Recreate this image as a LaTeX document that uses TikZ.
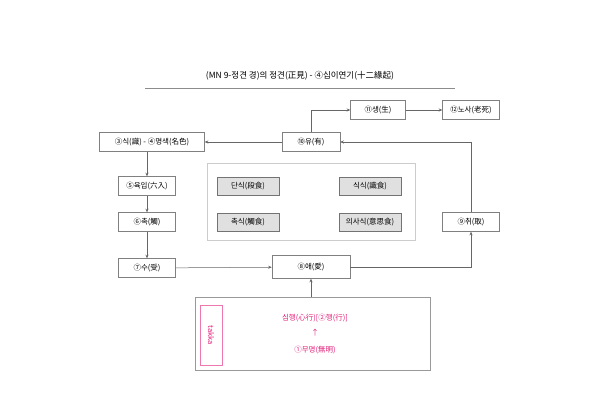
\documentclass[tikz,border=0pt]{standalone}
\usepackage{fontspec}
\setmainfont{Noto Sans CJK KR}
\usetikzlibrary{arrows.meta,positioning}
\definecolor{pinkred}{RGB}{225,30,120}
\begin{document}
\begin{tikzpicture}[
	x = 1pt, y = -1pt,
	> = {Stealth[length=3.5pt,width=3pt]}, % arrow head style
	font = \fontsize{7.5}{9}\selectfont,
	line width = 0.5pt,
	B/.style={draw=black!50, fill=white, minimum height=19pt, inner sep=1pt},  % plain box
	G/.style={draw=black!55, fill=black!12, minimum width=62pt, minimum height=18pt},  % gray box
	]
	\useasboundingbox (0,0) rectangle (600,415);

	% Title
	\node[font=\fontsize{8.5}{10}\selectfont] (title) at (300,76) {(MN 9-정견 경)의 정견(正見) - ④십이연기(十二緣起)};
	\draw[black!45] (145,88) -- (455,88);

	% Nodes and their relative positions
	\node[B, minimum width=55pt] (S11) at (378,110) {⑪생(生)};
	\node[B, minimum width=57pt] (S12) at (471,110) {⑫노사(老死)};
	\node[B, minimum width=58pt] (S10) at (311,142) {⑩유(有)};
	\node[B, minimum width=105pt] (S3) at (152,142) {③식(識) - ④명색(名色)};
	\node[B, minimum width=57pt] (S5) at (147,186) {⑤육입(六入)};
	\node[B, minimum width=57pt] (S6) at (147,222) {⑥촉(觸)};
	\node[B, minimum width=57pt] (S7) at (147,268) {⑦수(受)};
	\node[B, minimum width=78pt, minimum height=23pt] (S8) at (311,267) {⑧애(愛)};
	\node[B, minimum width=57pt] (S9) at (471,222) {⑨취(取)};

	% food box
	\draw[black!20] (207,163) rectangle (415,240);
	\node[G] (F1) at (248,186) {단식(段食)};
	\node[G] (F2) at (370,186) {식식(識食)};
	\node[G] (F3) at (248,222) {촉식(觸食)};
	\node[G] (F4) at (370,222) {의사식(意思食)};

	% ignorance box
	\node[draw=black!40, minimum width=235pt, minimum height=73pt] (BOT) at (312.5,333.5) {};
	\node[draw=pinkred!60, minimum width=22pt, minimum height=60pt] (TK) at (211,335) {};
	\node[pinkred, rotate=-90] at (TK) {takka};
	\node[pinkred] (S2) at (315,318) {심행(心行)[②행(行)]};
	\node[pinkred] (UP) at (315,333) {↑};
	\node[pinkred] (S1) at (315,350) {①무명(無明)};

	% Paths connecting nodes
	\begin{scope}[draw=black!60]
	\draw[->] (S11) -- (S12);
	\draw[->] (S10.north) |- (S11.west);
	\draw[->] (S10) -- (S3);
	\draw[->] (S3.south -| S5) -- (S5);
	\draw[->] (S5) -- (S6);
	\draw[->] (S6) -- (S7);
	\draw[->] (S7) -- (S8);
	\draw[->] (S8.east) -| (S9.south);
	\draw[->] (S9.north) |- (S10.east);
	\draw[->] (BOT.north -| S8) -- (S8);
	\end{scope}

\end{tikzpicture}
\end{document}
